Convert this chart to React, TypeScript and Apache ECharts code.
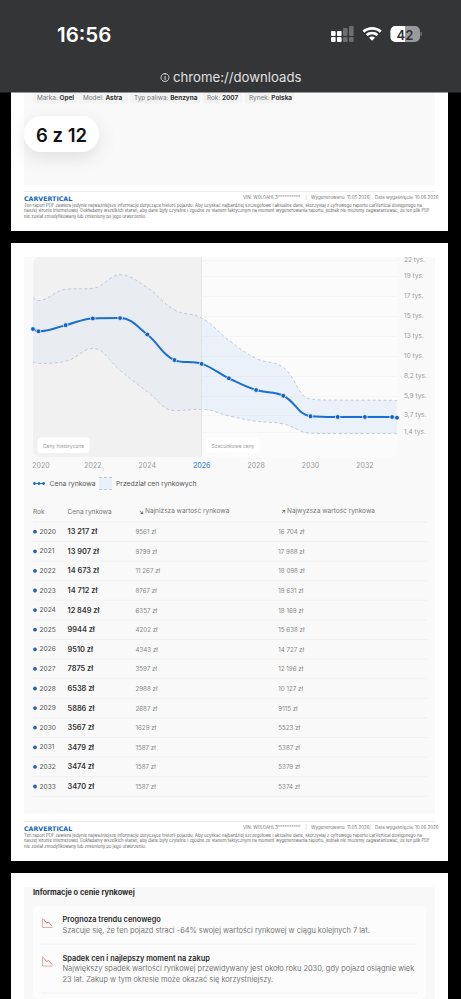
import React, { useEffect, useRef } from "react";
import * as echarts from "echarts";

const tableYears = [2020, 2021, 2022, 2023, 2024, 2025, 2026, 2027, 2028, 2029, 2030, 2031, 2032, 2033];
const tablePrice = [13217, 13907, 14673, 14712, 12849, 9944, 9510, 7875, 6538, 5886, 3567, 3479, 3474, 3470];
const tableLow = [9561, 9799, 11267, 8767, 6357, 4202, 4343, 3597, 2988, 2687, 1629, 1587, 1587, 1587];
const tableHigh = [16704, 17988, 18098, 19631, 18169, 15638, 14727, 12196, 10127, 9115, 5523, 5387, 5379, 5374];

// the plotted curves run a little past the first and last year
const axisStart = 2019.8;
const axisEnd = 2033.18;
const startValues = { price: 13470, low: 9760, high: 17075 };
const endValues = { price: 3390, low: 1560, high: 5330 };

const xs = [axisStart, ...tableYears, axisEnd];
const price = [startValues.price, ...tablePrice, endValues.price];
const low = [startValues.low, ...tableLow, endValues.low];
const high = [startValues.high, ...tableHigh, endValues.high];

const xTicks = [2020, 2022, 2024, 2026, 2028, 2030, 2032];
const yTickValues = [1770, 3700, 5880, 8150, 10400, 12700, 14950, 17200, 19500, 21300];
const yTickLabels = ["1,4 tys.", "3,7 tys.", "5,9 tys.", "8,2 tys.", "10 tys.", "13 tys.", "15 tys.", "17 tys.", "19 tys.", "22 tys."];

const FONT = "Inter, 'Noto Sans', sans-serif";
const BLUE = "#1a6fd4";
const SMOOTH = 0.4;

const disclaimer = [
  "Ten raport PDF zawiera jedynie najważniejsze informacje dotyczące historii pojazdu. Aby uzyskać najbardziej szczegółowe i aktualne dane, skorzystaj z cyfrowego raportu carVertical dostępnego na",
  "naszej stronie internetowej. Dokładamy wszelkich starań, aby dane były czytelne i zgodne ze stanem faktycznym na moment wygenerowania raportu, jednak nie możemy zagwarantować, że ten plik PDF",
  "nie został zmodyfikowany lub zmieniony po jego utworzeniu.",
];
const tags: [string, string, number, number][] = [
  ["Marka: ", "Opel", 33, 45],
  ["Model: ", "Astra", 79, 49],
  ["Typ paliwa: ", "Benzyna", 130, 70],
  ["Rok: ", "2007", 203, 39],
  ["Rynek: ", "Polska", 245, 50],
];

const money = (v: number) => {
  const s = String(v);
  return (v >= 10000 ? s.slice(0, -3) + " " + s.slice(-3) : s) + " zł";
};

echarts.graphic.registerShape(
  "wifiIcon",
  echarts.graphic.extendPath(
    "M8 0C5 0 2.2 1.1 0 3L1.5 4.7C3.2 3.2 5.5 2.3 8 2.3S12.8 3.2 14.5 4.7L16 3C13.8 1.1 11 0 8 0ZM8 4C6 4 4.2 4.7 2.8 6L4.3 7.6C5.3 6.8 6.6 6.3 8 6.3S10.7 6.8 11.7 7.6L13.2 6C11.8 4.7 10 4 8 4ZM8 8C7 8 6.2 8.3 5.5 8.9L8 11.5L10.5 8.9C9.8 8.3 9 8 8 8Z",
    {}
  )
);

function text(x: number, y: number, t: string, fontSize: number, fill: string, fontWeight: any = 400, extra: any = {}) {
  return {
    type: "text",
    z: 20,
    style: { x, y, text: t, fontSize, fill, fontWeight, fontFamily: FONT, verticalAlign: "middle", align: "left", ...extra },
  };
}
function rect(x: number, y: number, width: number, height: number, fill: string, r: any = 0, z = -5, style: any = {}) {
  return { type: "rect", z, shape: { x, y, width, height, r }, style: { fill, ...style } };
}
function line(x1: number, y1: number, x2: number, y2: number, stroke: string, z = 1, style: any = {}) {
  return { type: "line", z, shape: { x1, y1, x2, y2 }, style: { stroke, lineWidth: 0.8, ...style } };
}
function hline(x1: number, x2: number, y: number, stroke: string, z = 1, style: any = {}) {
  return line(x1, y, x2, y, stroke, z, style);
}

function footer(dy: number) {
  const out: any[] = [
    hline(24, 435, 191.5 + dy, "#e4e4e4"),
    text(24, 198 + dy, "CARVERTICAL", 6.3, "#1565c0", 800, { fontFamily: "'DejaVu Sans', sans-serif" }),
    text(243, 197 + dy, "VIN: W0L0AHL3**********", 4.5, "#777"),
    text(311, 197 + dy, "Wygenerowano: 11.05.2026", 4.5, "#777"),
    text(375, 197 + dy, "Data wygaśnięcia: 10.06.2026", 4.5, "#777"),
    line(306, 194 + dy, 306, 200 + dy, "#ddd"),
    line(370, 194 + dy, 370, 200 + dy, "#ddd"),
  ];
  disclaimer.forEach((l, i) => out.push(text(24, 205.3 + i * 5.4 + dy, l, 4.25, "#666")));
  return out;
}

function trendIcon(x: number, y: number) {
  return [
    { type: "polyline", z: 20, shape: { points: [[x, y], [x, y + 9.5], [x + 10, y + 9.5]] }, style: { stroke: "#e4a3a3", lineWidth: 0.9, fill: "none" } },
    { type: "polyline", z: 20, shape: { points: [[x + 1, y + 1], [x + 4, y + 5], [x + 6, y + 4], [x + 9.5, y + 8]] }, style: { stroke: "#d96b6b", lineWidth: 0.9, fill: "none" } },
  ];
}

function buildGraphics() {
  const g: any[] = [];
  // page sheets
  g.push(rect(0, 0, 461, 999, "#000", 0, -20));
  g.push(rect(11, 80, 437, 151, "#fff", 0, -19));
  g.push(rect(11, 243, 437, 618, "#fff", 0, -19));
  g.push(rect(11, 873, 437, 126, "#fff", 0, -19));
  g.push(rect(24, 92, 411, 93, "#f9f9f9", 0, -18));
  g.push(rect(24, 257, 411, 557, "#f9f9f9", 0, -18));
  g.push(rect(24, 887, 411, 112, "#f8f8f8", 0, -18));
  g.push(rect(33, 906, 393, 93, "#fcfcfc", 5, -17));

  // phone status bar
  g.push(rect(0, 0, 461, 92.5, "#343537", 0, 15));
  g.push(text(57, 34.5, "16:56", 20.5, "#fff", 600));
  g.push(text(173, 76.5, "chrome://downloads", 13.2, "#e0e0e0", 400));
  g.push({ type: "circle", z: 20, shape: { cx: 165, cy: 77.5, r: 4 }, style: { fill: "none", stroke: "#ddd", lineWidth: 0.9 } });
  g.push(text(165, 77.5, "i", 6, "#ddd", 700, { align: "center" }));
  g.push(rect(331, 31, 4.6, 5, "#fff", 1, 20), rect(331, 37, 4.6, 5, "#fff", 1, 20));
  g.push(rect(337, 31, 4.6, 5, "#fff", 1, 20), rect(337, 37, 4.6, 5, "#fff", 1, 20));
  g.push(rect(343, 28, 4.6, 8, "#6e6e70", 1, 20), rect(343, 37, 4.6, 5, "#6e6e70", 1, 20));
  g.push(rect(349, 26, 4.6, 10, "#6e6e70", 1, 20), rect(349, 37, 4.6, 5, "#6e6e70", 1, 20));
  g.push({ type: "wifiIcon", z: 20, x: 362.5, y: 27, scaleX: 1.2, scaleY: 1.2, style: { fill: "#fff" } });
  g.push(rect(390.5, 26, 29.5, 16, "#9a9a9c", 5, 19));
  g.push(rect(390.5, 26, 14.5, 16, "#fff", [5, 0, 0, 5], 19));
  g.push(rect(420.5, 32, 1.2, 4, "#7a7a7c", 0.5, 19));
  g.push(text(405, 34.5, "42", 13, "#303032", 600, { align: "center" }));

  // tags and badge
  tags.forEach(([a, b, x, w]) => {
    g.push(rect(x, 92.5, w, 11, "#f3f3f3", 1, -15));
    g.push({
      type: "text", z: 20,
      style: {
        x: x + 4, y: 97.5, text: `{a|${a}}{b|${b}}`, verticalAlign: "middle",
        rich: {
          a: { fontSize: 6.4, fill: "#777", fontFamily: FONT },
          b: { fontSize: 6.4, fill: "#333", fontWeight: 700, fontFamily: FONT },
        },
      },
    });
  });
  g.push(rect(24, 116, 75, 36, "#fff", 18, -10, { shadowBlur: 18, shadowColor: "rgba(0,0,0,0.10)", shadowOffsetY: 6 }));
  g.push(text(36, 134.5, "6 z 12", 18.5, "#111", 600));
  g.push(...footer(0), ...footer(630));

  // chart panels
  g.push(rect(33, 257, 364, 200, "#fbfbfb", 6, -10));
  g.push(rect(33, 257, 168.7, 200, "#f1f1f1", [6, 0, 0, 6], -9));
  g.push(rect(37.5, 437.5, 52, 15.5, "#fff", 4, 10));
  g.push(text(63.5, 445.5, "Ceny historyczne", 5, "#999", 400, { align: "center" }));
  g.push(rect(205.5, 437.5, 54.5, 15.5, "#fff", 4, 10));
  g.push(text(233, 445.5, "Szacunkowe ceny", 5, "#999", 400, { align: "center" }));

  // chart legend
  [34.5, 39, 43.5].forEach((cx) => {
    g.push({ type: "circle", z: 20, shape: { cx, cy: 483.5, r: 1.4 }, style: { fill: BLUE } });
  });
  g.push(hline(33, 45, 483.5, BLUE, 20, { lineWidth: 1 }));
  g.push(text(49.5, 483.5, "Cena rynkowa", 6.8, "#555"));
  g.push(rect(99, 477, 13, 13, "#e8f0f9", 0, 5));
  g.push(hline(99, 112, 477.5, "#aebfd6", 20, { lineDash: [3, 2] }));
  g.push(hline(99, 112, 489.5, "#aebfd6", 20, { lineDash: [3, 2] }));
  g.push(text(116, 483.5, "Przedział cen rynkowych", 6.8, "#555"));

  // table
  g.push(text(33, 512, "Rok", 6.5, "#777"));
  g.push(text(67.5, 512, "Cena rynkowa", 6.5, "#777"));
  g.push(text(139, 511, "↘", 6, "#444"));
  g.push(text(145, 511, "Najniższa wartość rynkowa", 6.5, "#777"));
  g.push(text(281, 511, "↗", 6, "#444"));
  g.push(text(287, 511, "Najwyższa wartość rynkowa", 6.5, "#777"));
  tableYears.forEach((year, i) => {
    const y = 531.7 + i * 19.6;
    g.push(hline(33, 427, y - 9.8, "#efefef"));
    g.push({ type: "circle", z: 20, shape: { cx: 35, cy: y, r: 1.9 }, style: { fill: "#1f63c6" } });
    g.push(text(39.5, y, String(year), 6.6, "#555"));
    g.push(text(67.5, y, money(tablePrice[i]), 7.4, "#333", 600));
    g.push(text(135.5, y, money(tableLow[i]), 6.2, "#888"));
    g.push(text(278.3, y, money(tableHigh[i]), 6.2, "#888"));
  });
  g.push(hline(33, 427, 531.7 + 14 * 19.6 - 9.8, "#efefef"));

  // insights
  g.push(text(33, 892, "Informacje o cenie rynkowej", 7.4, "#2a2a2a", 700));
  g.push(...trendIcon(42.5, 918));
  g.push(text(62.5, 919.5, "Prognoza trendu cenowego", 7.4, "#2a2a2a", 600));
  g.push(text(62.5, 930, "Szacuje się, że ten pojazd straci -64% swojej wartości rynkowej w ciągu kolejnych 7 lat.", 7.4, "#777"));
  g.push(hline(41, 417, 944, "#efefef"));
  g.push(...trendIcon(42.5, 956.5));
  g.push(text(62.5, 958, "Spadek cen i najlepszy moment na zakup", 7.4, "#2a2a2a", 600));
  g.push(text(62.5, 968.5, "Największy spadek wartości rynkowej przewidywany jest około roku 2030, gdy pojazd osiągnie wiek", 7.4, "#777"));
  g.push(text(62.5, 979, "23 lat. Zakup w tym okresie może okazać się korzystniejszy.", 7.4, "#777"));
  g.push(hline(41, 417, 993, "#efefef"));
  return g;
}

type Seg = number[]; // p0x p0y c1x c1y c2x c2y p1x p1y
const clampTo = (v: number, a: number, b: number) => Math.min(Math.max(v, Math.min(a, b)), Math.max(a, b));

// Same bezier segments as the line series draws with `smooth`, so the band's fill meets its dashed edges.
function smoothSegments(pts: number[][], smooth: number): Seg[] {
  const segs: Seg[] = [];
  let cx0 = pts[0][0];
  let cy0 = pts[0][1];
  for (let i = 1; i < pts.length; i++) {
    const [px, py] = pts[i - 1];
    const [x, y] = pts[i];
    let cx1 = x;
    let cy1 = y;
    let nx0 = x;
    let ny0 = y;
    if (i + 1 < pts.length) {
      const [nx, ny] = pts[i + 1];
      let vx = nx - px;
      let vy = ny - py;
      const lenPrev = Math.hypot(x - px, y - py);
      const lenNext = Math.hypot(nx - x, ny - y);
      const ratio = lenNext / (lenNext + lenPrev);
      nx0 = clampTo(x + vx * smooth * ratio, x, nx);
      ny0 = clampTo(y + vy * smooth * ratio, y, ny);
      vx = nx0 - x;
      vy = ny0 - y;
      cx1 = clampTo(x - (vx * lenPrev) / lenNext, px, x);
      cy1 = clampTo(y - (vy * lenPrev) / lenNext, py, y);
      vx = x - cx1;
      vy = y - cy1;
      nx0 = x + (vx * lenNext) / lenPrev;
      ny0 = y + (vy * lenNext) / lenPrev;
    }
    segs.push([px, py, cx0, cy0, cx1, cy1, x, y]);
    cx0 = nx0;
    cy0 = ny0;
  }
  return segs;
}

function renderBand(params: any, api: any) {
  if (params.dataIndex !== 0) return null;
  const upper = smoothSegments(xs.map((x, i) => api.coord([x, high[i]])), SMOOTH);
  const lower = smoothSegments(xs.map((x, i) => api.coord([x, low[i]])), SMOOTH);
  let d = `M${upper[0][0]} ${upper[0][1]}`;
  upper.forEach((s) => {
    d += `C${s[2]} ${s[3]} ${s[4]} ${s[5]} ${s[6]} ${s[7]}`;
  });
  const last = lower[lower.length - 1];
  d += `L${last[6]} ${last[7]}`;
  [...lower].reverse().forEach((s) => {
    d += `C${s[4]} ${s[5]} ${s[2]} ${s[3]} ${s[0]} ${s[1]}`;
  });
  d += "Z";
  // the tint is lighter over the grey "historical" half, with the step at the 2026 divider
  const split = (api.coord([2026, 0])[0] - upper[0][0]) / (last[6] - upper[0][0]);
  const fill = new echarts.graphic.LinearGradient(
    0, 0, 1, 0,
    [
      { offset: 0, color: "rgba(90,150,225,0.055)" },
      { offset: split, color: "rgba(90,150,225,0.055)" },
      { offset: split, color: "rgba(90,150,225,0.10)" },
      { offset: 1, color: "rgba(90,150,225,0.10)" },
    ]
  );
  return { type: "path", shape: { pathData: d }, style: { fill } };
}

export default function App() {
  const ref = useRef<HTMLDivElement>(null);
  useEffect(() => {
    document.body.style.margin = "0";
    document.body.style.background = "#000";
    const chart = echarts.init(ref.current!, null, { renderer: "svg" });
    const pairs = (vals: number[]) => vals.map((v, i) => [xs[i], v]);
    const bandLine = { color: "#b9c6d6", width: 0.9, type: [3, 2.5] as any };
    chart.setOption({
      animation: false,
      graphic: { elements: buildGraphics() },
      grid: { left: 33, top: 256.7, width: 364, height: 200, containLabel: false },
      xAxis: {
        type: "value",
        min: axisStart,
        max: axisEnd,
        axisLine: { show: false },
        axisTick: { show: false },
        splitLine: { show: false },
        axisLabel: {
          customValues: xTicks,
          margin: 5,
          fontSize: 7,
          fontFamily: FONT,
          color: "#9a9a9a",
          formatter: (v: number) => (v === 2026 ? `{now|${v}}` : v === 2020 ? `{first|${v}}` : `${v}`),
          rich: {
            now: { color: "#4a8fd6", fontWeight: 500, fontSize: 7, fontFamily: FONT },
            first: { color: "#9a9a9a", fontSize: 7, fontFamily: FONT, padding: [0, 0, 0, 5] },
          },
        },
      },
      yAxis: {
        type: "value",
        position: "right",
        min: -1040,
        max: 21690,
        axisLine: { show: false },
        axisTick: { show: false, customValues: yTickValues },
        splitLine: { show: true, lineStyle: { color: "#f2f2f2", width: 0.6 } },
        axisLabel: {
          customValues: yTickValues,
          margin: 7,
          fontSize: 6.5,
          fontFamily: FONT,
          color: "#9a9a9a",
          formatter: (v: number) => yTickLabels[yTickValues.indexOf(v)],
        },
      },
      series: [
        {
          name: "Przedział cen rynkowych",
          type: "custom",
          renderItem: renderBand,
          data: xs.map((x, i) => [x, low[i], high[i]]),
          encode: { x: 0, y: [1, 2] },
          clip: true,
          silent: true,
          z: 2,
        },
        {
          name: "Najniższa wartość rynkowa",
          type: "line",
          data: pairs(low),
          smooth: SMOOTH,
          showSymbol: false,
          lineStyle: bandLine,
          z: 3,
        },
        {
          name: "Najwyższa wartość rynkowa",
          type: "line",
          data: pairs(high),
          smooth: SMOOTH,
          showSymbol: false,
          lineStyle: bandLine,
          z: 3,
        },
        {
          name: "Cena rynkowa",
          type: "line",
          data: pairs(price),
          smooth: SMOOTH,
          symbol: "circle",
          symbolSize: 4.6,
          showAllSymbol: true,
          lineStyle: { color: BLUE, width: 2 },
          itemStyle: { color: "#1460bd", borderColor: "#e9f0f8", borderWidth: 0.8 },
          z: 5,
          markLine: {
            silent: true,
            symbol: "none",
            label: { show: false },
            lineStyle: { color: "#e2e2e2", width: 0.8, type: "solid" },
            data: [{ xAxis: 2026 }],
          },
        },
      ],
    });
    return () => chart.dispose();
  }, []);
  return <div ref={ref} style={{ width: 461, height: 999 }} />;
}
